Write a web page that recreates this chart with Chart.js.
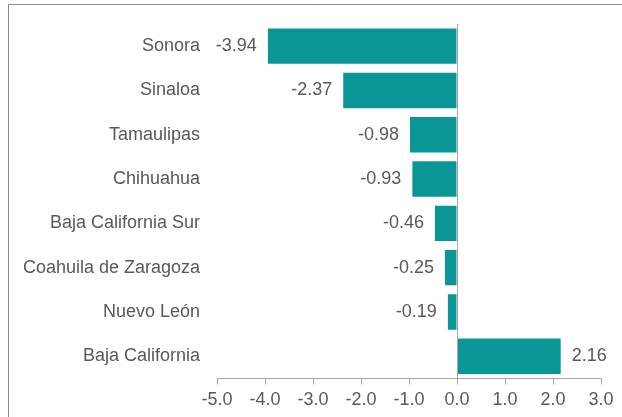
<!DOCTYPE html>
<html>
<head>
<meta charset="utf-8">
<script src="https://cdn.jsdelivr.net/npm/chart.js@4"></script>
<style>
  html, body { margin: 0; padding: 0; background: #fff; }
  canvas { display: block; }
</style>
</head>
<body>
<canvas id="statesChart" width="622" height="417"></canvas>
<script>
const states = ['Sonora', 'Sinaloa', 'Tamaulipas', 'Chihuahua', 'Baja California Sur',
    'Coahuila de Zaragoza', 'Nuevo León', 'Baja California'];
const changes = [-3.94, -2.37, -0.98, -0.93, -0.46, -0.25, -0.19, 2.16];
const xMin = -5;
const xMax = 3;

const textColor = '#595959';
const barColor = '#0a9696';
const fontFamily = '"Liberation Sans", Arial, sans-serif';

// frame lines, the zero line and the value labels next to each bar
const decorations = {
    id: 'decorations',
    beforeDraw(chart) {
        const c = chart.ctx;
        c.save();
        c.strokeStyle = '#8c8c8c';
        c.lineWidth = 1;
        c.beginPath();
        c.moveTo(8.5, 417);
        c.lineTo(8.5, 4.5);
        c.lineTo(622, 4.5);
        c.stroke();
        c.restore();
    },
    afterDatasetsDraw(chart) {
        const c = chart.ctx;
        const x0 = Math.round(chart.scales.x.getPixelForValue(0)) + 0.5;
        c.save();
        c.strokeStyle = '#a6a6a6';
        c.lineWidth = 1;
        c.beginPath();
        c.moveTo(x0, chart.chartArea.top);
        c.lineTo(x0, chart.chartArea.bottom);
        c.stroke();

        c.fillStyle = textColor;
        c.font = '18px ' + fontFamily;
        c.textBaseline = 'middle';
        chart.getDatasetMeta(0).data.forEach(function (bar, i) {
            const v = changes[i];
            if (v < 0) {
                c.textAlign = 'right';
                c.fillText(v.toFixed(2), bar.x - 11, bar.y);
            } else {
                c.textAlign = 'left';
                c.fillText(v.toFixed(2), bar.x + 11, bar.y);
            }
        });
        c.restore();
    }
};

const ctx = document.getElementById('statesChart').getContext('2d');
const statesChart = new Chart(ctx, {
    type: 'bar',
    data: {
        labels: states,
        datasets: [{
            data: changes,
            backgroundColor: barColor,
            borderWidth: 0,
            categoryPercentage: 0.8,
            barPercentage: 1
        }]
    },
    options: {
        indexAxis: 'y',
        responsive: false,
        devicePixelRatio: 1,
        animation: false,
        layout: {
            padding: { top: 24, right: 21, bottom: 1, left: 0 }
        },
        plugins: {
            legend: { display: false },
            tooltip: { enabled: false }
        },
        scales: {
            x: {
                min: xMin,
                max: xMax,
                ticks: {
                    stepSize: 1,
                    color: textColor,
                    padding: 5,
                    maxRotation: 0,
                    font: { size: 18, family: fontFamily },
                    callback: function (value) { return Number(value).toFixed(1); }
                },
                grid: {
                    drawOnChartArea: false,
                    drawTicks: true,
                    tickLength: 6,
                    color: '#a6a6a6'
                },
                border: { display: true, color: '#a6a6a6' }
            },
            y: {
                ticks: {
                    color: textColor,
                    padding: 17,
                    font: { size: 18, family: fontFamily }
                },
                grid: { display: false, drawTicks: false },
                border: { display: false },
                afterFit: function (scale) {
                    scale.width = 217;
                    // don't let the label padding push the plot area down
                    scale.paddingTop = 0;
                    scale.paddingBottom = 0;
                }
            }
        }
    },
    plugins: [decorations]
});
</script>
</body>
</html>
